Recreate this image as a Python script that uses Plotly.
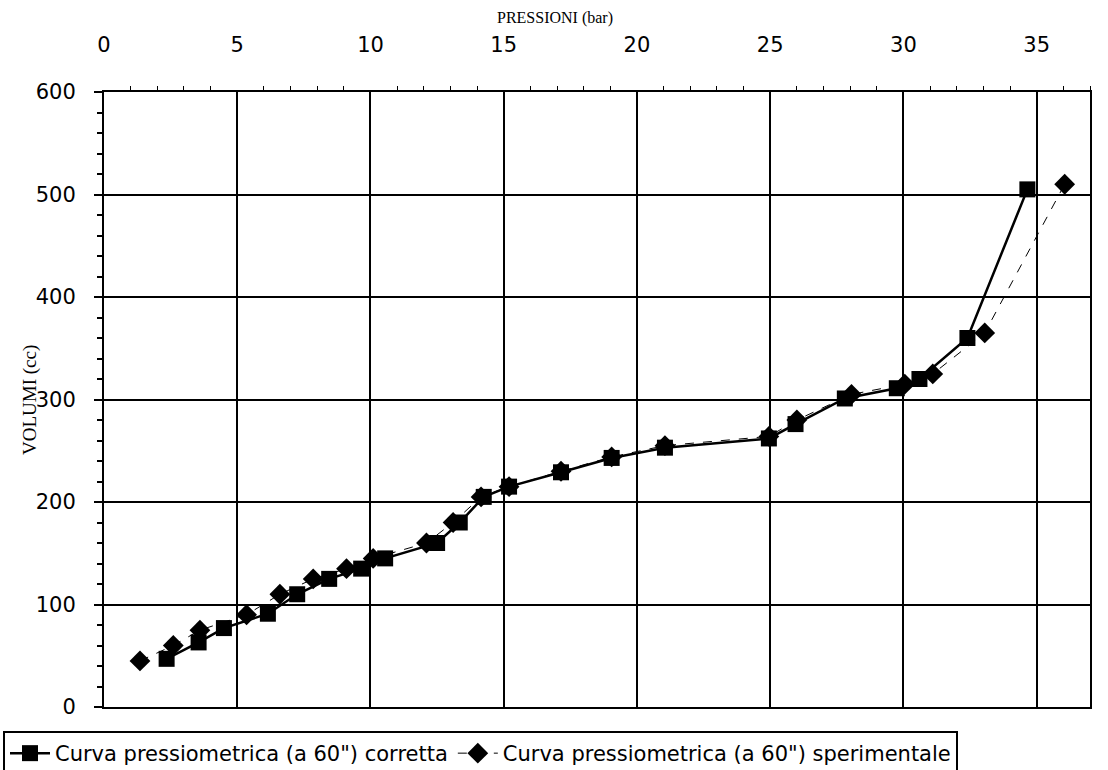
import plotly.graph_objects as go

# Pressiometric test: pressure (bar) vs injected volume (cc)
p_corretta = [2.35, 3.55, 4.5, 6.15, 7.25, 8.45, 9.65, 10.55, 12.5, 13.35, 14.25,
              15.2, 17.15, 19.05, 21.05, 24.95, 25.95, 27.8, 29.75, 30.6, 32.4, 34.65]
v_corretta = [47, 63, 77, 91, 110, 125, 135, 145, 160, 180, 205,
              215, 229, 243, 253, 262, 276, 301, 311, 320, 360, 505]

p_sperim = [1.35, 2.6, 3.6, 5.35, 6.6, 7.85, 9.1, 10.1, 12.1, 13.1, 14.15,
            15.2, 17.15, 19.05, 21.05, 24.95, 26.0, 28.05, 30.05, 31.1, 33.05, 36.05]
v_sperim = [45, 60, 75, 90, 110, 125, 135, 145, 160, 180, 205,
            215, 230, 244, 255, 264, 280, 305, 315, 325, 365, 510]

name_corretta = 'Curva pressiometrica (a 60") corretta'
name_sperim = 'Curva pressiometrica (a 60") sperimentale'

fig = go.Figure()
fig.add_trace(go.Scatter(
    x=p_sperim, y=v_sperim, mode="lines+markers", name=name_sperim,
    line=dict(color="black", width=1, dash="dash"),
    marker=dict(symbol="diamond", size=16, color="black"),
))
fig.add_trace(go.Scatter(
    x=p_corretta, y=v_corretta, mode="lines+markers", name=name_corretta,
    line=dict(color="black", width=2.5),
    marker=dict(symbol="square", size=16, color="black"),
))

tick_font = dict(family="DejaVu Sans, Arial, sans-serif", size=21, color="black")
legend_font = dict(family="DejaVu Sans, Arial, sans-serif", size=21, color="black")
serif = "Liberation Serif, Times New Roman, serif"

fig.update_layout(
    width=1108, height=770,
    margin=dict(l=104, r=18, t=92, b=63),
    paper_bgcolor="white", plot_bgcolor="white",
    showlegend=True,
    legend=dict(
        orientation="h", traceorder="reversed",
        xref="container", yref="container",
        x=3 / 1108, y=1 - 731 / 770, xanchor="left", yanchor="top",
        font=legend_font, bordercolor="black", borderwidth=2,
        bgcolor="white", itemwidth=40,
    ),
    xaxis=dict(
        side="top", range=[0, 37], dtick=5, tick0=0,
        showgrid=True, gridcolor="black", gridwidth=1.5,
        showline=True, linecolor="black", linewidth=2, mirror=True,
        ticks="", tickfont=tick_font, ticklabelstandoff=30,
        zeroline=False, automargin=False,
        minor=dict(dtick=1, ticks="outside", ticklen=4, tickcolor="black", showgrid=False),
    ),
    yaxis=dict(
        range=[0, 600], dtick=100, tick0=0,
        showgrid=True, gridcolor="black", gridwidth=1.5,
        showline=True, linecolor="black", linewidth=2, mirror=True,
        ticks="outside", ticklen=8, tickcolor="black", tickwidth=1.5,
        tickfont=tick_font, ticklabelstandoff=14,
        zeroline=False, automargin=False,
        minor=dict(dtick=20, ticks="outside", ticklen=5, tickcolor="black", showgrid=False),
    ),
    annotations=[
        dict(
            text="PRESSIONI (bar)", xref="paper", yref="paper",
            x=(555 - 104) / 986, y=1 + (92 - 18) / 615,
            xanchor="center", yanchor="middle", showarrow=False,
            font=dict(family=serif, size=16, color="black"),
        ),
        dict(
            text="VOLUMI (cc)", xref="paper", yref="paper",
            x=(30 - 104) / 986, y=(707 - 400) / 615, textangle=-90,
            xanchor="center", yanchor="middle", showarrow=False,
            font=dict(family=serif, size=19, color="black"),
        ),
    ],
)

fig.write_html("out.html")
